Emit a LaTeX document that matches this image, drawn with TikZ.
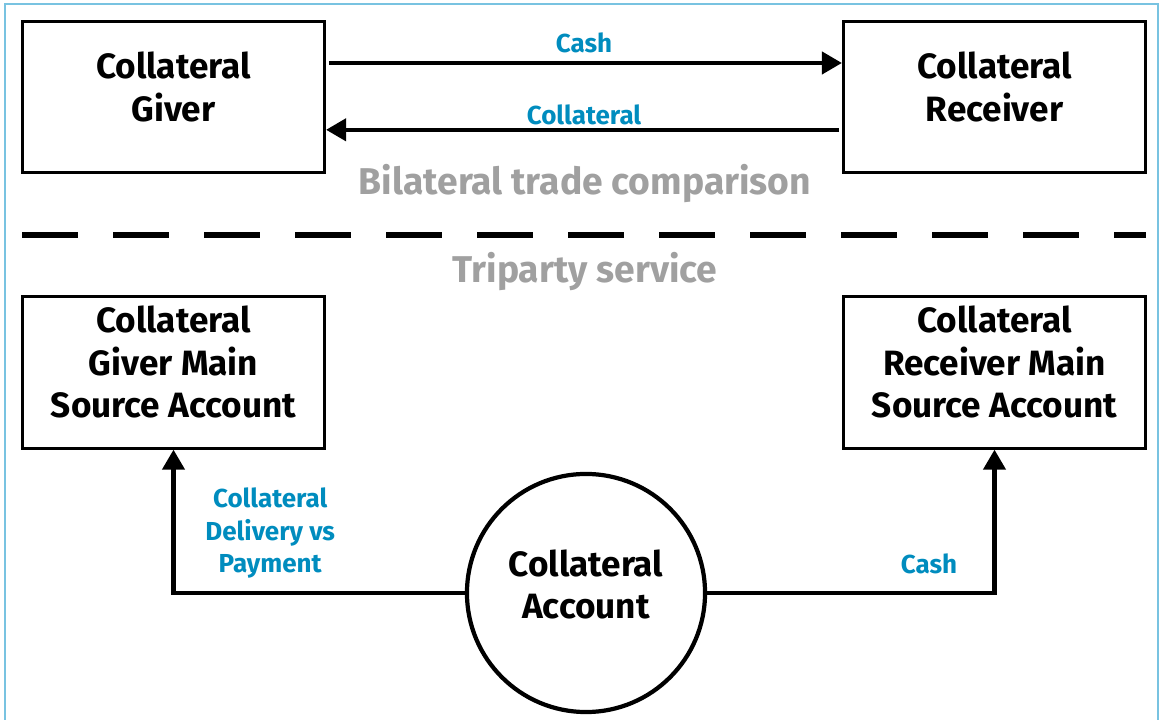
\documentclass[tikz,border=0pt]{standalone}
\usepackage{fontspec}
\setmainfont{Fira Sans}
\usetikzlibrary{arrows.meta}

\definecolor{labelblue}{RGB}{0,140,190}
\definecolor{framecol}{RGB}{120,195,225}
\definecolor{headgray}{RGB}{160,160,160}

\begin{document}
\begin{tikzpicture}[
    x=0.025cm, y=-0.025cm,
    box/.style={rectangle, draw, line width=2.2pt, minimum width=7.55cm, minimum height=3.78cm, align=center, text depth=0.52cm, font=\bfseries\fontsize{25}{30.2}\selectfont},
    acct/.style={circle, draw, line width=3pt, minimum size=5.95cm, align=center, text depth=0.45cm, font=\bfseries\fontsize{25}{30.2}\selectfont},
    flow/.style={line width=3pt, -{Triangle[length=0.5cm, width=0.55cm]}},
    lbl/.style={text=labelblue, align=center, font=\bfseries\fontsize{18.5}{23}\selectfont},
    head/.style={text=headgray, font=\bfseries\fontsize{26.5}{30}\selectfont}
]
\useasboundingbox (0,0) rectangle (1160,720);
\draw[framecol, line width=1.5pt] (5,725) |- (1158,4) -- (1158,725);

% bilateral trade
\node[box] (giver) at (173.5,97) {Collateral\\Giver};
\node[box] (receiver) at (994.5,97) {Collateral\\Receiver};

\draw[flow, shorten <=2pt] ([yshift=0.85cm]giver.east) -- node[lbl, above=0.08cm] {Cash} ([yshift=0.85cm]receiver.west);
\draw[flow, shorten <=2pt] ([yshift=-0.82cm]receiver.west) -- node[lbl, above=-0.05cm] {Collateral} ([yshift=-0.82cm]giver.east);

\node[head] (bilat) at (585,184) {Bilateral trade comparison};
\draw[line width=3.6pt, dash pattern=on 1.4cm off 0.875cm] (22,235) -- (1146,235);
\node[head] (tri) at (585,272) {Triparty service};

% triparty service
\node[box] (gmain) at (173.5,372.5) {Collateral\\Giver Main\\Source Account};
\node[box] (rmain) at (994.5,372.5) {Collateral\\Receiver Main\\Source Account};
\node[acct] (coll) at (586,593) {Collateral\\Account};

\draw[flow] (coll.west) -| node[lbl, pos=0.334, above=0.2cm] {Collateral\\Delivery vs\\Payment} (gmain.south);
\draw[flow] (coll.east) -| node[lbl, pos=0.386, above=0.3cm] {Cash} (rmain.south);

\end{tikzpicture}
\end{document}
